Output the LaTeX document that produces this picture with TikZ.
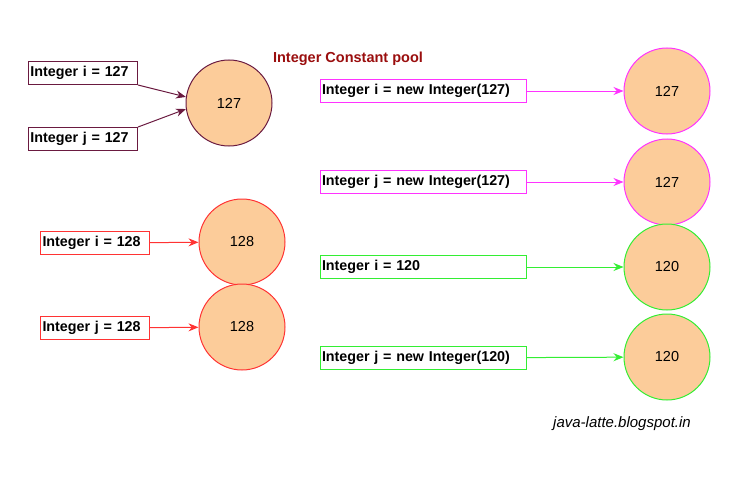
\documentclass[tikz,border=0pt]{standalone}
\usepackage{fontspec}
\setmainfont{Liberation Sans}
\usetikzlibrary{arrows.meta}
\definecolor{maroon}{HTML}{6A1A40}
\definecolor{pink}{HTML}{FF33FF}
\definecolor{lime}{HTML}{33EE33}
\definecolor{redline}{HTML}{FF3333}
\definecolor{peach}{HTML}{FCCC9A}
\definecolor{darkred}{HTML}{9A0E0E}
\tikzset{
  decl/.style={draw=#1, line width=1pt, fill=white, inner sep=2pt, align=left,
    font=\fontsize{14.3}{16}\selectfont\bfseries, minimum height=23pt},
  shortdecl/.style={decl=#1, text width=105pt},
  longdecl/.style={decl=#1, text width=202pt},
  val/.style={circle, draw=#1, line width=1pt, fill=peach, minimum size=86pt,
    inner sep=0pt, font=\fontsize{14.5}{16}\selectfont},
  ptr/.style={draw=#1, line width=1pt, -{Stealth[length=10pt,width=8pt]}}
}
\begin{document}
\begin{tikzpicture}[x=1pt,y=-1pt]
\useasboundingbox (0,0) rectangle (747,487);
% literals share one object from the pool
\node[shortdecl=maroon] (i127) at (83,73) {Integer i = 127};
\node[shortdecl=maroon] (j127) at (83,139) {Integer j = 127};
\node[val=maroon] (c127) at (229,103) {127};
\draw[ptr=maroon] (i127.south east) -- (c127.172);
\draw[ptr=maroon] (j127.north east) -- (c127.188);
\node[font=\fontsize{14.5}{16}\selectfont\bfseries, text=darkred] (pool) at (348,59) {Integer Constant pool};
%
\node[shortdecl=redline] (i128) at (95,243) {Integer i = 128};
\node[shortdecl=redline] (j128) at (95,328) {Integer j = 128};
\node[val=redline] (ci128) at (242,242) {128};
\node[val=redline] (cj128) at (242,327) {128};
\draw[ptr=redline] (i128) -- (ci128);
\draw[ptr=redline] (j128) -- (cj128);
%
\node[longdecl=pink] (inew) at (423,91) {Integer i = new Integer(127)};
\node[longdecl=pink] (jnew) at (423,182) {Integer j = new Integer(127)};
\node[val=pink] (ci127) at (667,91) {127};
\node[val=pink] (cj127) at (667,182) {127};
\draw[ptr=pink] (inew) -- (ci127);
\draw[ptr=pink] (jnew) -- (cj127);
%
\node[longdecl=lime] (i120) at (423,267) {Integer i = 120};
\node[longdecl=lime] (j120) at (423,358) {Integer j = new Integer(120)};
\node[val=lime] (ci120) at (667,267) {120};
\node[val=lime] (cj120) at (667,357) {120};
\draw[ptr=lime] (i120) -- (ci120);
\draw[ptr=lime] (j120) -- (cj120);
%
\node[font=\fontsize{15}{17}\selectfont\itshape] (site) at (622,424) {java-latte.blogspot.in};
\end{tikzpicture}
\end{document}
